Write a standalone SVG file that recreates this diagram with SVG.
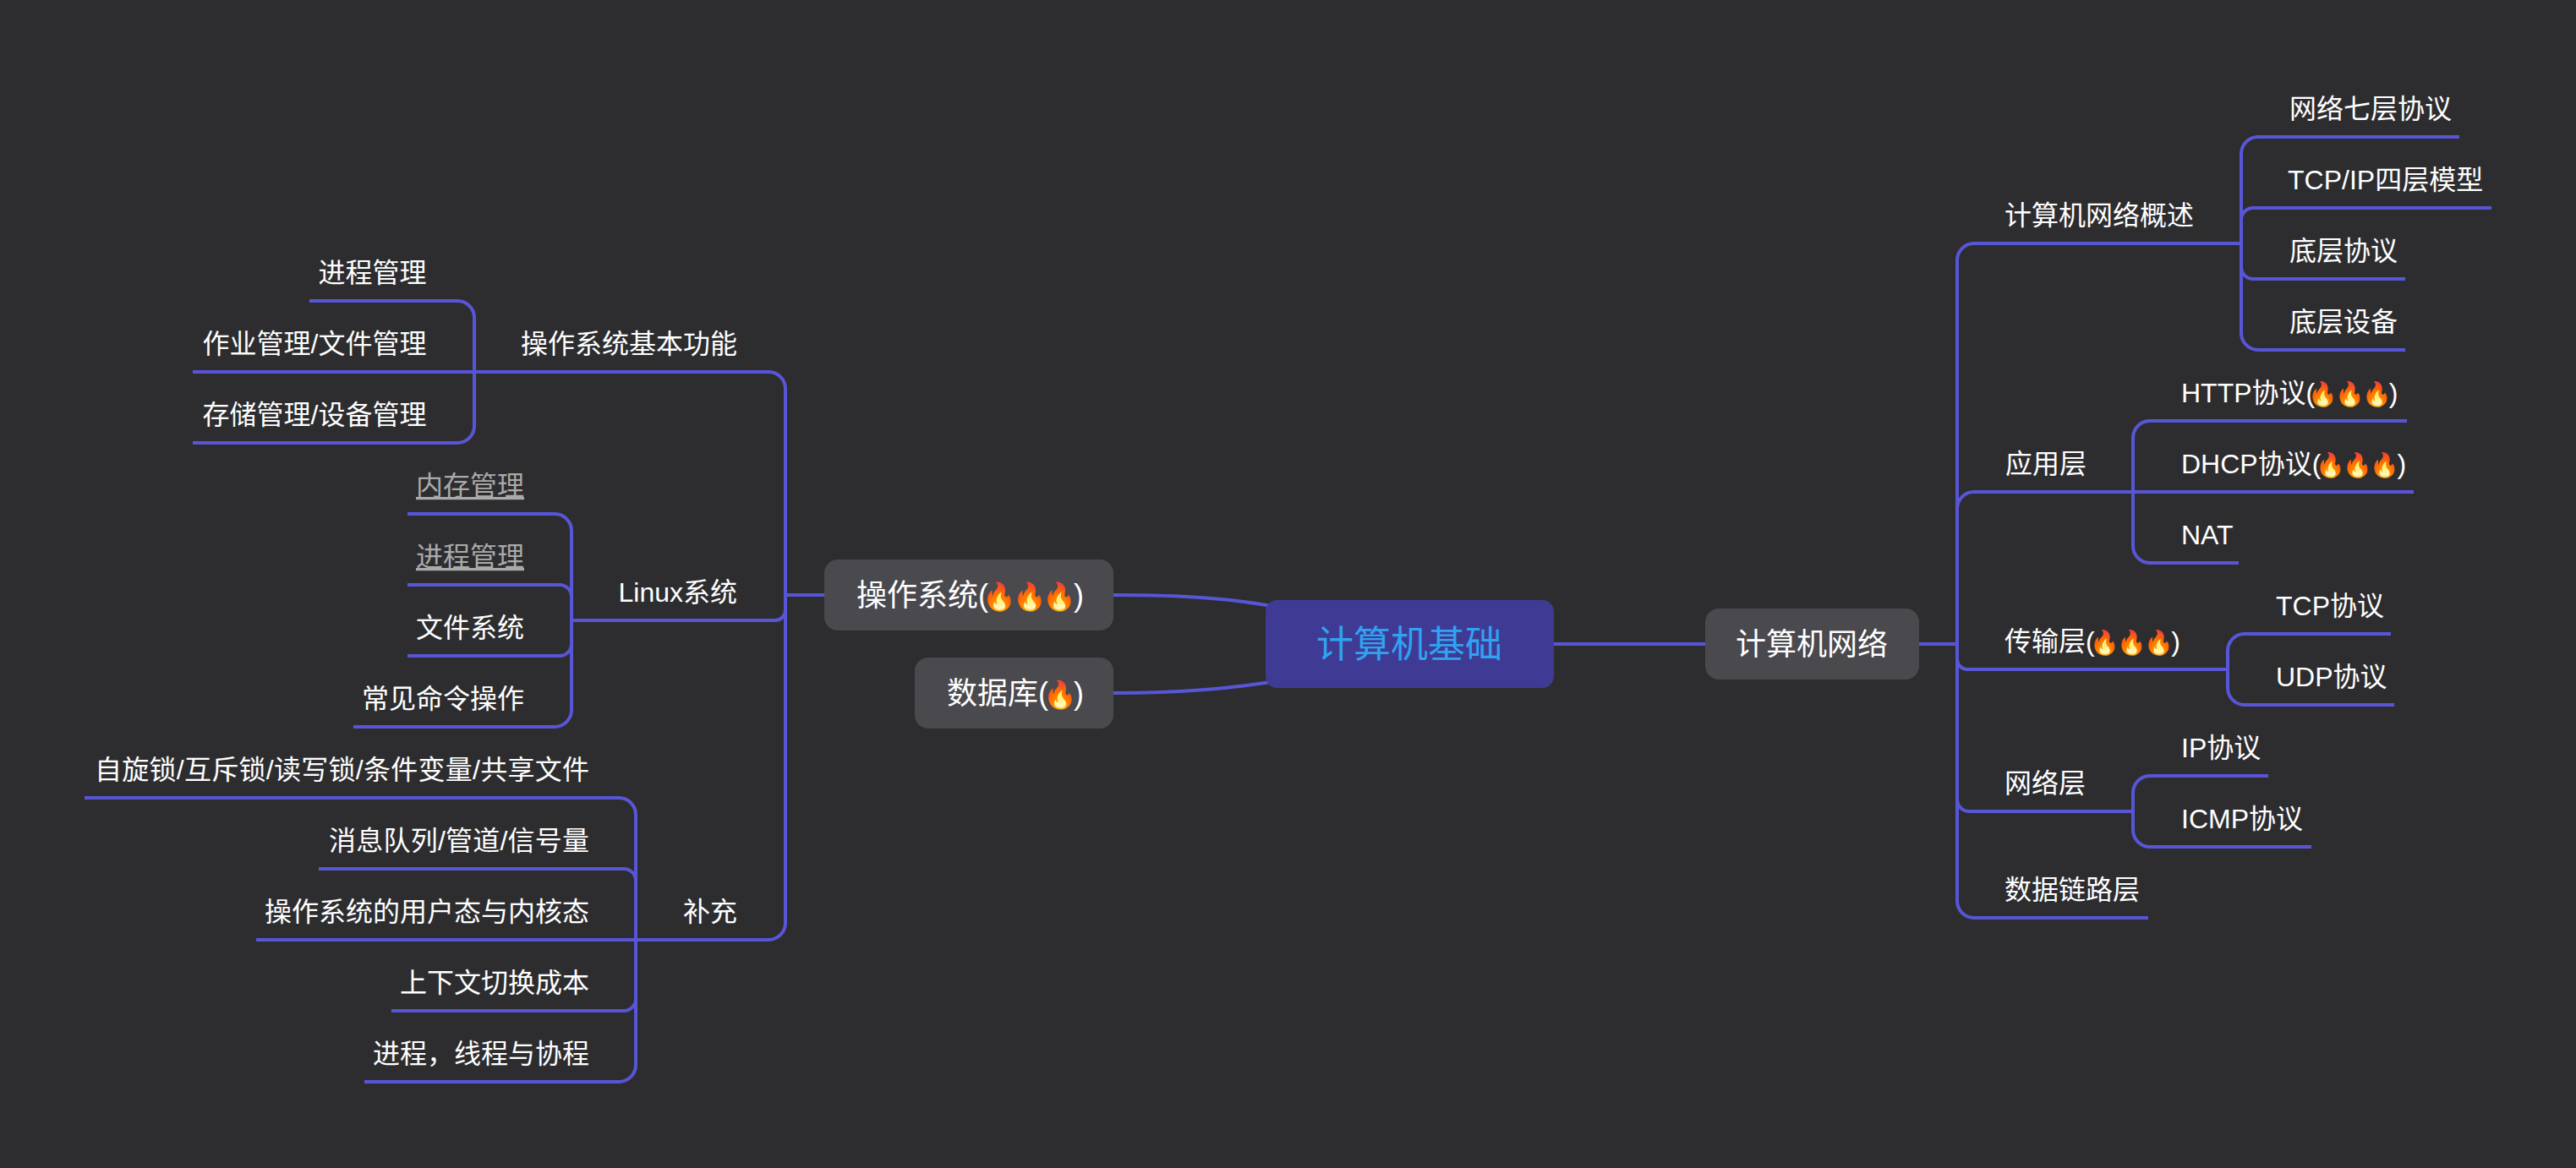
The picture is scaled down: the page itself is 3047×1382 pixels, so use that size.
<svg xmlns="http://www.w3.org/2000/svg" width="3047" height="1382" viewBox="0 0 3047 1382">
<style>
text{font-family:"Liberation Sans","Noto Sans CJK SC",sans-serif;font-size:32px;fill:#fff}
.e{text-anchor:end}
.m{text-anchor:middle}
.c path{fill:none;stroke:#5856d6;stroke-width:4}
.n{fill:#4a494e}
.big{font-size:36px}
.root{font-size:44px;fill:#2fa3f0}
.g{fill:#aaa;text-decoration:underline}
.f{font-size:28px;letter-spacing:-3px}
.fb{font-size:32px;letter-spacing:-4.5px}
</style>
<rect width="3047" height="1382" fill="#2d2d30"/>
<g id="connectors" class="c">
<path d="M1317 704C1400 704 1460 708 1520 720"/>
<path d="M1317 820C1400 820 1460 815 1520 804"/>
<path d="M1837 762H2017"/>
<path d="M2270 762H2315"/>
<path d="M2315 762V308A20 20 0 0 1 2335 288H2651"/>
<path d="M2315 762V602A20 20 0 0 1 2335 582H2855"/>
<path d="M2315 762V780A12 12 0 0 0 2327 792H2635"/>
<path d="M2315 762V946A14 14 0 0 0 2329 960H2523"/>
<path d="M2315 762V1066A20 20 0 0 0 2335 1086H2541"/>
<path d="M2651 288V182A20 20 0 0 1 2671 162H2909"/>
<path d="M2651 288V260A14 14 0 0 1 2665 246H2947"/>
<path d="M2651 288V316A14 14 0 0 0 2665 330H2845"/>
<path d="M2651 288V394A20 20 0 0 0 2671 414H2845"/>
<path d="M2523 582V518A20 20 0 0 1 2543 498H2847"/>
<path d="M2523 582V646A20 20 0 0 0 2543 666H2648"/>
<path d="M2635 792V770A20 20 0 0 1 2655 750H2828"/>
<path d="M2635 792V814A20 20 0 0 0 2655 834H2832"/>
<path d="M2523 960V938A20 20 0 0 1 2543 918H2683"/>
<path d="M2523 960V982A20 20 0 0 0 2543 1002H2734"/>
<path d="M975 704H929"/>
<path d="M929 704V460A20 20 0 0 0 909 440H228"/>
<path d="M929 704V722A12 12 0 0 1 917 734H676"/>
<path d="M929 704V1092A20 20 0 0 1 909 1112H303"/>
<path d="M561 440V376A20 20 0 0 0 541 356H366"/>
<path d="M561 440V504A20 20 0 0 1 541 524H228"/>
<path d="M676 734V628A20 20 0 0 0 656 608H482"/>
<path d="M676 734V706A14 14 0 0 0 662 692H482"/>
<path d="M676 734V762A14 14 0 0 1 662 776H482"/>
<path d="M676 734V840A20 20 0 0 1 656 860H418"/>
<path d="M752 1112V964A20 20 0 0 0 732 944H100"/>
<path d="M752 1112V1042A14 14 0 0 0 738 1028H377"/>
<path d="M752 1112V1182A14 14 0 0 1 738 1196H463"/>
<path d="M752 1112V1260A20 20 0 0 1 732 1280H431"/>
</g>
<g id="root"><rect x="1497" y="710" width="341" height="104" rx="14" fill="#3f3b95"/><text x="1667" y="778" class="m root">计算机基础</text></g>
<g id="net"><rect class="n" x="2017" y="720" width="253" height="84" rx="16"/><text x="2143" y="775" class="m big">计算机网络</text></g>
<g id="os"><rect class="n" x="975" y="662" width="342" height="84" rx="16"/><text x="1013" y="717" class="big">操作系统(<tspan class="fb" dx="-7">🔥🔥🔥</tspan><tspan dx="1.5">)</tspan></text></g>
<g id="db"><rect class="n" x="1082" y="778" width="235" height="84" rx="16"/><text x="1120" y="833" class="big">数据库(<tspan class="fb" dx="-6">🔥</tspan><tspan dx="0.5">)</tspan></text></g>
<g id="n1"><text x="2371" y="266">计算机网络概述</text></g>
<g id="n2"><text x="2372" y="560">应用层</text></g>
<g id="n3"><text x="2371" y="770">传输层(<tspan class="f" dx="-5.5">🔥🔥🔥</tspan><tspan>)</tspan></text></g>
<g id="n4"><text x="2371" y="938">网络层</text></g>
<g id="n5"><text x="2371" y="1064">数据链路层</text></g>
<g id="n6"><text x="2708" y="140">网络七层协议</text></g>
<g id="n7"><text x="2706" y="224">TCP/IP四层模型</text></g>
<g id="n8"><text x="2708" y="308">底层协议</text></g>
<g id="n9"><text x="2708" y="392">底层设备</text></g>
<g id="n10"><text x="2580" y="476">HTTP协议(<tspan class="f" dx="-8.5">🔥🔥🔥</tspan><tspan>)</tspan></text></g>
<g id="n11"><text x="2580" y="560">DHCP协议(<tspan class="f" dx="-5.9">🔥🔥🔥</tspan><tspan>)</tspan></text></g>
<g id="n12"><text x="2580" y="644">NAT</text></g>
<g id="n13"><text x="2692" y="728">TCP协议</text></g>
<g id="n14"><text x="2692" y="812">UDP协议</text></g>
<g id="n15"><text x="2580" y="896">IP协议</text></g>
<g id="n16"><text x="2580" y="980">ICMP协议</text></g>
<g id="n17"><text x="872" y="418" class="e">操作系统基本功能</text></g>
<g id="n18"><text x="872" y="712" class="e">Linux系统</text></g>
<g id="n19"><text x="872" y="1090" class="e">补充</text></g>
<g id="n20"><text x="504.5" y="334" class="e">进程管理</text></g>
<g id="n21"><text x="504.5" y="418" class="e">作业管理/文件管理</text></g>
<g id="n22"><text x="504.5" y="502" class="e">存储管理/设备管理</text></g>
<g id="n23"><text x="620" y="586" class="e g">内存管理</text></g>
<g id="n24"><text x="620" y="670" class="e g">进程管理</text></g>
<g id="n25"><text x="620" y="754" class="e">文件系统</text></g>
<g id="n26"><text x="620" y="838" class="e">常见命令操作</text></g>
<g id="n27"><text x="697" y="922" class="e" textLength="585">自旋锁/互斥锁/读写锁/条件变量/共享文件</text></g>
<g id="n28"><text x="697" y="1006" class="e" textLength="308">消息队列/管道/信号量</text></g>
<g id="n29"><text x="697" y="1090" class="e">操作系统的用户态与内核态</text></g>
<g id="n30"><text x="697" y="1174" class="e">上下文切换成本</text></g>
<g id="n31"><text x="697" y="1258" class="e">进程&#xFF0C;线程与协程</text></g>
</svg>
